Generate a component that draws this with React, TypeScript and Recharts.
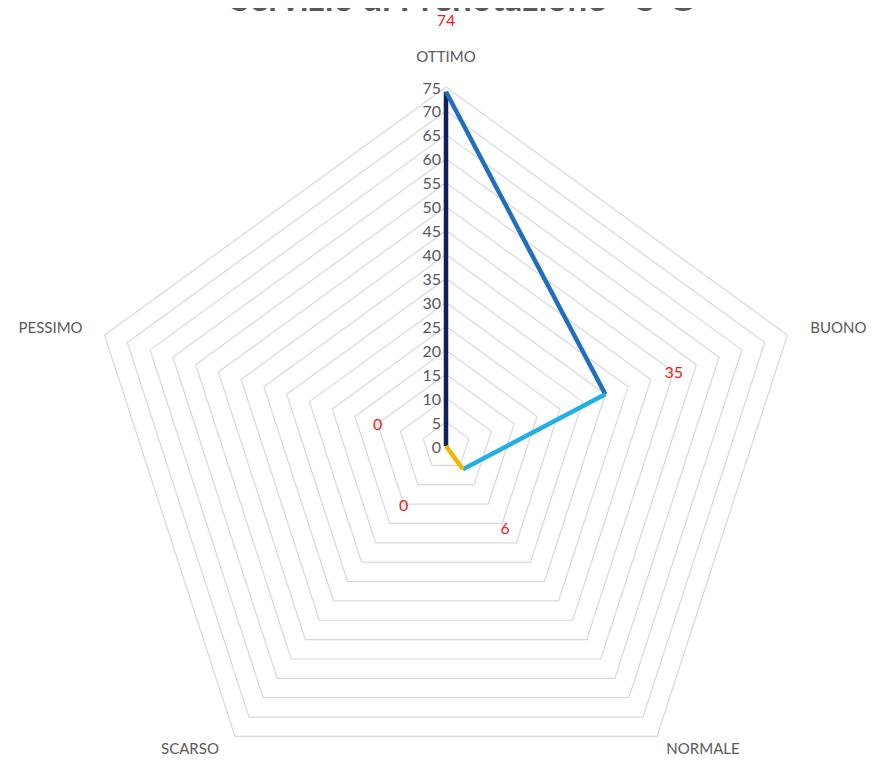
import React from 'react';
import { RadarChart, Radar, PolarGrid, PolarAngleAxis, PolarRadiusAxis } from 'recharts';

const categories = ['OTTIMO', 'BUONO', 'NORMALE', 'SCARSO', 'PESSIMO'];
const votes = [74, 35, 6, 0, 0];
const radiusTicks = [0, 5, 10, 15, 20, 25, 30, 35, 40, 45, 50, 55, 60, 65, 70, 75];

// colour of the segment that ends at each point (Excel "vary colours by point")
const segmentColors = ['#10205a', '#1f6fbf', '#22aee6', '#f5b400', '#8fa0b8'];
// how far past the point each red value label sits
const valueLabelOffset = 72;
// where each category name sits relative to its outer vertex
const axisLabelShift = [
  [0, -31],
  [51, -8],
  [46, 12],
  [-45, 12],
  [-54, -8],
];

const chartData = categories.map((name, i) => ({ name, value: votes[i] }));

const CX = 446;
const CY = 446;
const OUTER = 359;
const RAD = Math.PI / 180;
const FONT = 'Lato, "Open Sans", sans-serif';

const toXY = (r: number, angle: number) => ({
  x: CX + Math.cos(-angle * RAD) * r,
  y: CY + Math.sin(-angle * RAD) * r,
});

const SegmentShape = (props: any) => {
  const points = props.points || [];
  const n = points.length;
  return (
    <g>
      {points.map((p: any, i: number) => {
        const prev = points[(i - 1 + n) % n];
        return (
          <line
            key={`seg-${i}`}
            x1={prev.x}
            y1={prev.y}
            x2={p.x}
            y2={p.y}
            stroke={segmentColors[i]}
            strokeWidth={4.5}
          />
        );
      })}
      {points.map((p: any, i: number) => {
        const pos = toXY(p.radius + valueLabelOffset, p.angle);
        return (
          <text
            key={`lbl-${i}`}
            x={pos.x}
            y={pos.y}
            textAnchor="middle"
            dominantBaseline="central"
            fill="#ee1c1c"
            fontSize={16}
            fontFamily={FONT}
          >
            {votes[i]}
          </text>
        );
      })}
    </g>
  );
};

const AngleTick = (props: any) => {
  const { payload, index } = props;
  const v = toXY(OUTER, payload.coordinate);
  const [dx, dy] = axisLabelShift[index] || [0, 0];
  return (
    <text
      x={v.x + dx}
      y={v.y + dy}
      textAnchor="middle"
      dominantBaseline="central"
      fill="#595959"
      fontSize={15}
      fontFamily={FONT}
    >
      {payload.value}
    </text>
  );
};

const RadiusTick = (props: any) => {
  const { x, y, payload } = props;
  return (
    <text
      x={x - 5}
      y={y}
      textAnchor="end"
      dominantBaseline="central"
      fill="#595959"
      fontSize={16}
      fontFamily={FONT}
    >
      {payload.value}
    </text>
  );
};

const App: React.FC = () => {
  return (
    <div style={{ position: 'relative', width: 877, height: 763, margin: -8, overflow: 'hidden', background: '#fff' }}>
      <RadarChart
        width={877}
        height={763}
        data={chartData}
        cx={CX}
        cy={CY}
        outerRadius={OUTER}
        margin={{ top: 0, right: 0, bottom: 0, left: 0 }}
      >
        <PolarGrid gridType="polygon" radialLines={false} stroke="#d9d9d9" strokeWidth={1.2} />
        <PolarAngleAxis dataKey="name" tick={<AngleTick />} tickLine={false} axisLine={false} />
        <PolarRadiusAxis
          angle={90}
          domain={[0, 75]}
          ticks={radiusTicks as any}
          tickCount={16}
          orientation="left"
          axisLine={false}
          tickLine={false}
          tick={<RadiusTick />}
        />
        <Radar
          dataKey="value"
          fill="none"
          stroke="none"
          isAnimationActive={false}
          shape={<SegmentShape />}
        />
      </RadarChart>
      {/* title sits mostly above the frame, only its lower part shows */}
      <svg width={877} height={30} style={{ position: 'absolute', top: 0, left: 0, zIndex: 5 }}>
        <text
          x={462}
          y={11}
          textAnchor="middle"
          fontFamily={FONT}
          fontWeight={700}
          fontSize={35}
          fill="#595959"
        >
          Servizio di Prenotazione - S-G
        </text>
      </svg>
    </div>
  );
};

export default App;
